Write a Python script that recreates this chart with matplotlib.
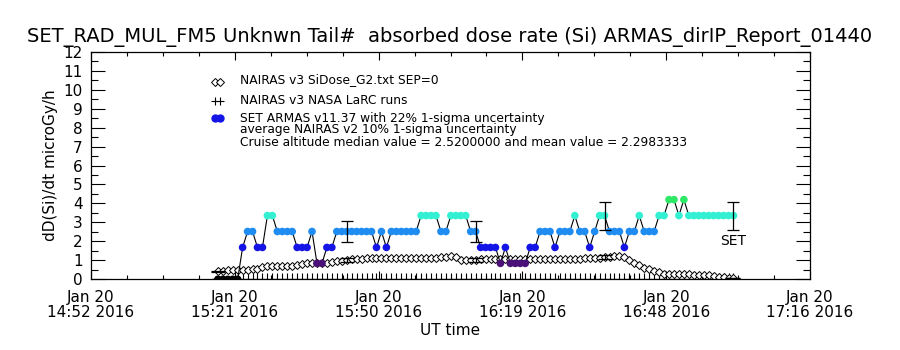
import numpy as np
import matplotlib
matplotlib.use('Agg')
import matplotlib.pyplot as plt
from matplotlib.ticker import MultipleLocator

plt.rcParams['font.family'] = ['DejaVu Sans']

# x axis in minutes after the left edge (Jan 20 2016, 14:52 UT)
t_span = 144.0
xtick_pos = [0.0, 28.8, 57.6, 86.4, 115.2, 144.0]
xtick_labels = ['Jan 20\n14:52 2016', 'Jan 20\n15:21 2016', 'Jan 20\n15:50 2016',
                'Jan 20\n16:19 2016', 'Jan 20\n16:48 2016', 'Jan 20\n17:16 2016']

# ARMAS samples, about one per minute
t_first = 25.4
dt = 0.993
armas = [0, 0, 0, 0, 0,
         1.68, 2.52, 2.52, 1.68, 1.68, 3.36, 3.36, 2.52, 2.52, 2.52, 2.52, 1.68, 1.68, 1.68,
         2.52, 0.84, 0.84, 1.68, 1.68,
         2.52, 2.52, 2.52, 2.52, 2.52, 2.52, 2.52, 2.52,
         1.68, 2.52, 1.68,
         2.52, 2.52, 2.52, 2.52, 2.52, 2.52,
         3.36, 3.36, 3.36, 3.36, 2.52, 2.52, 3.36, 3.36, 3.36, 3.36, 2.52, 2.52,
         1.68, 1.68, 1.68, 1.68, 0.84, 1.68, 0.84, 0.84, 0.84, 0.84, 1.68, 1.68,
         2.52, 2.52, 2.52, 1.68, 2.52, 2.52, 2.52, 3.36, 2.52, 2.52, 1.68, 2.52,
         3.36, 3.36, 2.52, 2.52, 2.52, 1.68, 2.52, 2.52, 3.36, 2.52, 2.52, 2.52,
         3.36, 3.36, 4.2, 4.2, 3.36, 4.2,
         3.36, 3.36, 3.36, 3.36, 3.36, 3.36, 3.36, 3.36, 3.36, 3.36]

# NAIRAS v3 SiDose, same sample times
nairas = [0.42, 0.45, 0.47, 0.48, 0.49, 0.5, 0.5, 0.52, 0.55,
          0.66, 0.68, 0.7, 0.7, 0.71, 0.72, 0.72, 0.73,
          0.82, 0.84, 0.85, 0.86, 0.87, 0.88, 0.9,
          0.94, 0.96, 1.0,
          1.05, 1.07, 1.08, 1.1, 1.1, 1.1, 1.1, 1.1, 1.1, 1.1, 1.1, 1.1, 1.1, 1.1, 1.1,
          1.12, 1.12, 1.12, 1.15,
          1.2, 1.24, 1.2,
          1.02, 1.0, 1.02, 1.03,
          1.05, 1.06, 1.08, 1.08, 1.08, 1.08, 1.08, 1.08, 1.08, 1.08, 1.08, 1.08,
          1.08, 1.08, 1.08, 1.08, 1.08, 1.08, 1.08, 1.08, 1.08, 1.1, 1.1, 1.1,
          1.14, 1.16, 1.2, 1.22, 1.22, 1.2,
          1.0, 0.86, 0.75, 0.62, 0.52, 0.45, 0.36,
          0.3, 0.28, 0.27, 0.27, 0.26, 0.26, 0.25, 0.25, 0.24, 0.22,
          0.15, 0.12, 0.1, 0.08, 0.06]

# NASA LaRC runs (all zero, from the 5th sample on)
larc = [0.0] * 101

# samples carrying uncertainty bars
err_idx = [0, 26, 52, 78, 104]
armas_sigma = 0.22
nairas_sigma = 0.10

level_colors = {0: 'black', 0.84: '#4b0f78', 1.68: '#1414e6', 2.52: '#1e8cf0',
                3.36: '#33f0d2', 4.2: '#2ce864'}

t = t_first + dt * np.arange(len(armas))
armas = np.array(armas)
nairas = np.array(nairas)

fig = plt.figure(figsize=(9, 3.5), dpi=100)
ax = fig.add_axes([91 / 900, 1 - 279.3 / 350, 719 / 900, 227.6 / 350])

ax.plot(t[4:], larc, linestyle='none', marker='+', color='black', ms=8, mew=0.8)

ax.plot(t, nairas, linestyle='none', marker='D', mfc='white', mec='black',
        ms=3.6, mew=0.7)

ax.plot(t, armas, color='black', lw=0.8, zorder=3)
cols = [level_colors[v] for v in armas]
ax.scatter(t, armas, c=cols, s=30, marker='o', edgecolors='none', zorder=4)

te = t[err_idx]
ax.errorbar(te, armas[err_idx], yerr=armas_sigma * armas[err_idx], fmt='none',
            ecolor='black', elinewidth=0.9, capsize=4, capthick=0.9, zorder=5)
ax.errorbar(te, nairas[err_idx], yerr=nairas_sigma * nairas[err_idx], fmt='none',
            ecolor='black', elinewidth=0.9, capsize=5, capthick=0.9, zorder=5)
ax.text(te[-1], armas[err_idx[-1]] * (1 - armas_sigma) - 0.25, 'SET',
        ha='center', va='top', fontsize=10)

ax.set_xlim(0, t_span)
ax.set_ylim(0, 11.95)
ax.set_xticks(xtick_pos)
ax.set_xticklabels(xtick_labels, fontsize=11, linespacing=0.95)
ax.xaxis.set_minor_locator(MultipleLocator(7.2))
ax.set_yticks(range(13))
ax.set_yticklabels([str(v) for v in range(13)], fontsize=11)
ax.yaxis.set_minor_locator(MultipleLocator(0.5))
ax.tick_params(axis='both', which='both', direction='in', top=True, right=True, width=0.8)
ax.tick_params(axis='x', which='major', length=6, pad=8)
ax.tick_params(axis='x', which='minor', length=3)
ax.tick_params(axis='y', which='major', length=10, pad=6)
ax.tick_params(axis='y', which='minor', length=5)
for s in ax.spines.values():
    s.set_linewidth(0.9)

ax.set_xlabel('UT time', fontsize=11, labelpad=2)
ax.set_ylabel('dD(Si)/dt microGy/h', fontsize=11, labelpad=4)
fig.text(0.5, 1 - 37 / 350, 'SET_RAD_MUL_FM5 Unknwn Tail#  absorbed dose rate (Si) ARMAS_dirIP_Report_01440',
         ha='center', va='center', fontsize=14)

# legend block
leg_lines = ['NAIRAS v3 SiDose_G2.txt SEP=0', 'NAIRAS v3 NASA LaRC runs',
             'SET ARMAS v11.37 with 22% 1-sigma uncertainty',
             'average NAIRAS v2 10% 1-sigma uncertainty',
             'Cruise altitude median value = 2.5200000 and mean value = 2.2983333']
leg_y = [80, 100, 118, 129.5, 142]
for s, y in zip(leg_lines, leg_y):
    fig.text(240 / 900, 1 - y / 350, s, ha='left', va='center', fontsize=8.8)
fx = np.array([215, 220]) / 900
ax.plot(fx, [1 - 82 / 350] * 2, transform=fig.transFigure, clip_on=False, linestyle='none',
        marker='D', mfc='white', mec='black', ms=3.6, mew=0.7)
ax.plot(fx, [1 - 101 / 350] * 2, transform=fig.transFigure, clip_on=False, linestyle='none',
        marker='+', color='black', ms=6, mew=0.8)
ax.plot(fx, [1 - 118 / 350] * 2, transform=fig.transFigure, clip_on=False, linestyle='none',
        marker='o', color='#1414e6', ms=5)

fig.savefig('out.png', dpi=100)
